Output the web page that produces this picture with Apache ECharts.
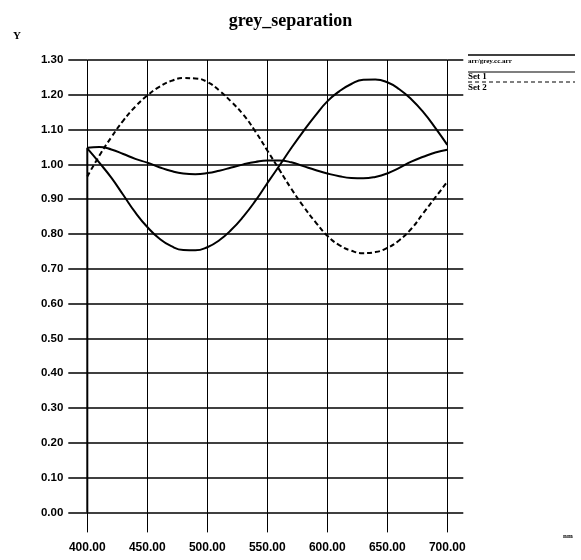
<!DOCTYPE html>
<html>
<head>
<meta charset="utf-8">
<script src="https://cdn.jsdelivr.net/npm/echarts@6/dist/echarts.min.js"></script>
<style>
  html, body { margin: 0; padding: 0; background: #fff; }
  #chart { width: 581px; height: 560px; }
</style>
</head>
<body>
<div id="chart"></div>
<script>
// Wavelengths (nm) sampled every 10 nm
const wavelengths = [400, 410, 420, 430, 440, 450, 460, 470, 480, 490,
                     500, 510, 520, 530, 540, 550, 560, 570, 580, 590,
                     600, 610, 620, 630, 640, 650, 660, 670, 680, 690, 700];

// Grey reference curve (file arr/grey.cc.arr); it rises from zero at 400 nm
const greyStart = 0;
const greyValues = [1.048, 1.050, 1.043, 1.030, 1.016, 1.005, 0.992, 0.981, 0.974, 0.972,
                    0.975, 0.982, 0.991, 1.000, 1.007, 1.011, 1.011, 1.006, 0.995, 0.984,
                    0.974, 0.966, 0.961, 0.960, 0.964, 0.974, 0.990, 1.008, 1.022, 1.034, 1.042];

// Set 1 (solid)
const set1Values = [1.046, 1.005, 0.962, 0.912, 0.862, 0.820, 0.787, 0.765, 0.754, 0.753,
                    0.762, 0.782, 0.812, 0.850, 0.895, 0.946, 0.996, 1.047, 1.095, 1.140,
                    1.181, 1.210, 1.231, 1.243, 1.244, 1.236, 1.216, 1.187, 1.150, 1.105, 1.056];

// Set 2 (dashed)
const set2Values = [0.965, 1.025, 1.078, 1.126, 1.166, 1.198, 1.223, 1.240, 1.248, 1.247,
                    1.237, 1.212, 1.180, 1.143, 1.095, 1.040, 0.985, 0.930, 0.880, 0.835,
                    0.795, 0.768, 0.752, 0.745, 0.748, 0.760, 0.782, 0.815, 0.860, 0.905, 0.950];

const legendNames = ['arr/grey.cc.arr', 'Set 1', 'Set 2'];

const pairs = vals => wavelengths.map((w, i) => [w, vals[i]]);
// vertical rise of the grey curve at the first wavelength
const greyRise = [[wavelengths[0], greyStart], [wavelengths[0], greyValues[0]]];

const INK = '#000';
const labelFont = { color: INK, fontFamily: 'Liberation Sans', fontWeight: 'bold' };
const fmt = v => v.toFixed(2);

const chart = echarts.init(document.getElementById('chart'), null, { renderer: 'canvas' });

const xCommon = { type: 'value', min: 400, max: 700, interval: 50, axisLine: { show: false } };
const yCommon = { type: 'value', min: 0, max: 1.3, interval: 0.1, axisLine: { show: false } };

chart.setOption({
  backgroundColor: '#fff',
  animation: false,
  title: {
    text: 'grey_separation',
    left: 'center',
    top: 7,
    textStyle: { fontFamily: 'Liberation Serif', fontWeight: 'bold', fontSize: 18, color: INK }
  },
  grid: { left: 87.3, right: 133.7, top: 60, bottom: 47.6, containLabel: false },
  xAxis: [
    Object.assign({}, xCommon, {
      position: 'bottom',
      splitLine: { show: true, lineStyle: { color: INK, width: 1 } },
      axisTick: { show: true, inside: false, length: 20, lineStyle: { color: INK, width: 1 } },
      axisLabel: Object.assign({ margin: 29, formatter: fmt, fontSize: 12 }, labelFont)
    }),
    Object.assign({}, xCommon, {
      position: 'top',
      splitLine: { show: false },
      axisTick: { show: true, inside: false, length: 4, lineStyle: { color: INK, width: 1 } },
      axisLabel: { show: false }
    })
  ],
  yAxis: [
    Object.assign({}, yCommon, {
      position: 'left',
      splitLine: { show: true, lineStyle: { color: INK, width: 1.5 } },
      axisTick: { show: true, inside: false, length: 19, lineStyle: { color: INK, width: 1.5 } },
      axisLabel: Object.assign({ margin: 24, formatter: fmt, fontSize: 11.5 }, labelFont)
    }),
    Object.assign({}, yCommon, {
      position: 'right',
      splitLine: { show: false },
      axisTick: { show: true, inside: false, length: 16, lineStyle: { color: INK, width: 1.5 } },
      axisLabel: { show: false }
    })
  ],
  series: [
    {
      name: legendNames[0], type: 'line', data: pairs(greyValues), showSymbol: false,
      smooth: true,
      lineStyle: { color: INK, width: 2 }
    },
    {
      name: legendNames[0] + ' rise', type: 'line', data: greyRise, showSymbol: false,
      lineStyle: { color: INK, width: 2 }
    },
    {
      name: legendNames[1], type: 'line', data: pairs(set1Values), showSymbol: false,
      smooth: true,
      lineStyle: { color: INK, width: 2 }
    },
    {
      name: legendNames[2], type: 'line', data: pairs(set2Values), showSymbol: false,
      smooth: true,
      lineStyle: { color: INK, width: 2, type: [5, 3] }
    }
  ],
  graphic: [
    { type: 'text', left: 13, top: 31,
      style: { text: 'Y', font: 'bold 11px "Liberation Serif"', fill: INK } },
    { type: 'text', left: 563, top: 533,
      style: { text: 'nm', font: 'bold 7px "Liberation Serif"', fill: INK } },
    // legend block at the right
    { type: 'line', shape: { x1: 468, y1: 55, x2: 575, y2: 55 }, style: { stroke: INK, lineWidth: 1.5 } },
    { type: 'text', x: 468, y: 61,
      style: { text: legendNames[0], font: 'bold 7px "Liberation Serif"', fill: INK, verticalAlign: 'middle' } },
    { type: 'line', shape: { x1: 468, y1: 72, x2: 575, y2: 72 }, style: { stroke: INK, lineWidth: 1.2 } },
    { type: 'text', x: 468, y: 77,
      style: { text: legendNames[1], font: 'bold 9px "Liberation Serif"', fill: INK, verticalAlign: 'middle' } },
    { type: 'line', shape: { x1: 468, y1: 82, x2: 575, y2: 82 }, style: { stroke: INK, lineWidth: 1.2, lineDash: [4, 3] } },
    { type: 'text', x: 468, y: 88,
      style: { text: legendNames[2], font: 'bold 9px "Liberation Serif"', fill: INK, verticalAlign: 'middle' } }
  ]
});
</script>
</body>
</html>
